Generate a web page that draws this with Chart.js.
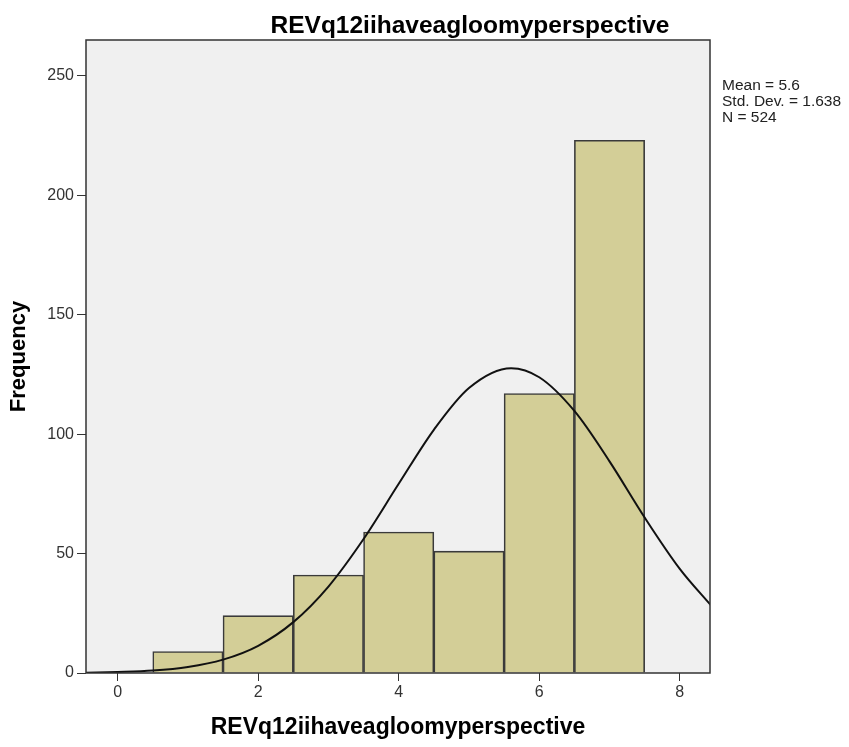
<!DOCTYPE html>
<html>
<head>
<meta charset="utf-8">
<script src="https://cdn.jsdelivr.net/npm/chart.js@4.4.1/dist/chart.umd.min.js"></script>
<style>
  body { margin: 0; background: #fff; }
  #wrap { width: 849px; height: 747px; }
</style>
</head>
<body>
<div id="wrap"><canvas id="hist" width="849" height="747"></canvas></div>
<script>
// histogram bins (centres) and frequencies
const binCentres = [1, 2, 3, 4, 5, 6, 7];
const frequencies = [9, 24, 41, 59, 51, 117, 223];

// normal curve
const curveX = [-0.45, 0, 0.5, 1, 1.5, 2, 2.5, 3, 3.5, 4, 4.5, 5, 5.6, 6, 6.5, 7, 7.5, 8, 8.45];
const curveY = [0.1, 0.4, 1.0, 2.5, 5.6, 11.4, 21.3, 36.2, 56.1, 79.2, 101.8, 119.3, 127.6, 123.8, 109.7, 88.6, 65.1, 43.6, 28.1];

const xTicks = [0, 2, 4, 6, 8];
const yTicks = [0, 50, 100, 150, 200, 250];

const chartTitle = 'REVq12iihaveagloomyperspective';
const statsLines = ['Mean = 5.6', 'Std. Dev. = 1.638', 'N = 524'];

const FONT = '"Liberation Sans", Arial, sans-serif';

// plot background, frame, title and stats box
const decor = {
  id: 'decor',
  beforeDraw(chart) {
    const { ctx, chartArea: a } = chart;
    ctx.save();
    ctx.fillStyle = '#f0f0f0';
    ctx.fillRect(a.left, a.top, a.right - a.left, a.bottom - a.top);
    ctx.restore();
  },
  afterDraw(chart) {
    const { ctx, chartArea: a } = chart;
    ctx.save();
    ctx.strokeStyle = '#333';
    ctx.lineWidth = 1.5;
    ctx.strokeRect(a.left, a.top, a.right - a.left, a.bottom - a.top);

    ctx.fillStyle = '#000';
    ctx.font = 'bold 24.5px ' + FONT;
    ctx.textAlign = 'center';
    ctx.textBaseline = 'middle';
    ctx.fillText(chartTitle, 470, 26);

    ctx.font = '15.5px ' + FONT;
    ctx.textAlign = 'left';
    ctx.fillStyle = '#222';
    statsLines.forEach((s, i) => ctx.fillText(s, a.right + 12, 86 + i * 16));
    ctx.restore();
  }
};

new Chart(document.getElementById('hist'), {
  data: {
    datasets: [
      {
        type: 'line',
        data: curveX.map((x, i) => ({ x: x, y: curveY[i] })),
        borderColor: '#111',
        borderWidth: 2,
        pointRadius: 0,
        cubicInterpolationMode: 'monotone',
        fill: false,
        order: 0
      },
      {
        type: 'bar',
        data: binCentres.map((x, i) => ({ x: x, y: frequencies[i] })),
        backgroundColor: '#d3ce97',
        borderColor: '#3a3a3a',
        borderWidth: 1.6,
        barPercentage: 1,
        categoryPercentage: 1,
        order: 1
      }
    ]
  },
  options: {
    responsive: false,
    animation: false,
    layout: { padding: { left: 0, top: 40, right: 139, bottom: 0 } },
    plugins: { legend: { display: false }, tooltip: { enabled: false } },
    scales: {
      x: {
        type: 'linear',
        offset: false,
        min: -0.45,
        max: 8.43,
        afterBuildTicks: s => { s.ticks = xTicks.map(v => ({ value: v })); },
        afterFit: s => { s.height = 74; },
        grid: { offset: false, drawOnChartArea: false, drawTicks: true, tickLength: 8, color: '#333' },
        border: { display: false },
        ticks: { font: { family: FONT, size: 16 }, color: '#333', padding: 2 },
        title: {
          display: true,
          text: chartTitle,
          font: { family: FONT, size: 23, weight: 'bold' },
          color: '#000',
          padding: { top: 2, bottom: 6 }
        }
      },
      y: {
        type: 'linear',
        min: 0,
        max: 265,
        afterBuildTicks: s => { s.ticks = yTicks.map(v => ({ value: v })); },
        afterFit: s => { s.width = 86; },
        grid: { drawOnChartArea: false, drawTicks: true, tickLength: 9, color: '#333' },
        border: { display: false },
        ticks: { font: { family: FONT, size: 16 }, color: '#333', padding: 3 },
        title: {
          display: true,
          text: 'Frequency',
          font: { family: FONT, size: 22, weight: 'bold' },
          color: '#000',
          padding: { top: 6, bottom: 4 }
        }
      }
    }
  },
  plugins: [decor]
});
</script>
</body>
</html>
